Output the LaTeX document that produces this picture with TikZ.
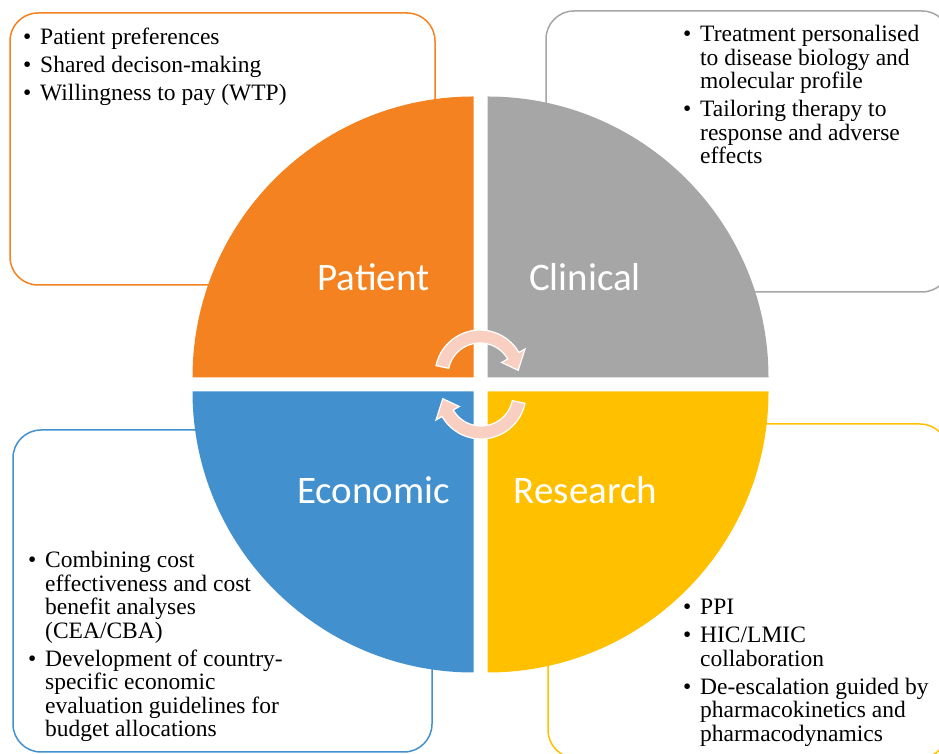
\documentclass[tikz,border=0pt]{standalone}
\usepackage{fontspec}
\setmainfont{Liberation Serif}
\newfontfamily\labelfont{Carlito}
\definecolor{porange}{HTML}{F58220}
\definecolor{pgray}{HTML}{A6A6A6}
\definecolor{pblue}{HTML}{4290CE}
\definecolor{pyellow}{HTML}{FFC000}
\definecolor{parrow}{HTML}{F9CFC2}
\newcommand{\bitem}[1]{\par\hangindent=17pt\hangafter=1\noindent\makebox[17pt][l]{\textbullet}#1\par}
\newcommand{\bsep}{\vspace{4.5pt}}
\newcommand{\blist}[1]{\parbox[t]{330pt}{\fontsize{23.5pt}{23.5pt}\selectfont\setlength{\parskip}{0pt}\lineskiplimit=-20pt #1}}
\newcommand{\cycarrowpath}{%
  \fill[cycfill]
    (168:45pt) arc[start angle=168, end angle=30, radius=45pt]
    -- (30:52pt) -- (7:38.5pt) -- (30:25pt) -- (30:32pt)
    arc[start angle=30, end angle=168, radius=32pt] -- cycle;}
\tikzset{
  infobox/.style={draw=#1, line width=1.5pt, rounded corners=28pt, fill=none, inner sep=0pt},
  quadlabel/.style={text=white, font=\labelfont\fontsize{39pt}{39pt}\selectfont, inner sep=0pt},
  listtext/.style={anchor=base west, inner sep=0pt, text=black},
  cycfill/.style={fill=parrow, draw=white, line width=1.2pt}
}
\begin{document}
\begin{tikzpicture}[x=1pt,y=1pt]
\useasboundingbox (0,0) rectangle (939,754);
% info boxes
\node[infobox=porange, minimum width=425pt, minimum height=272pt] (pbox) at (222.5,605) {};
\node[infobox=pgray, minimum width=404pt, minimum height=281pt] (cbox) at (748,602.5) {};
\node[infobox=pblue, minimum width=419pt, minimum height=322pt] (ebox) at (222.5,163) {};
\node[infobox=pyellow, minimum width=400pt, minimum height=334pt] (rbox) at (748,163) {};
% quadrants
\fill[porange] (473.5,376.5) -- (192.5,376.5) arc[start angle=180, end angle=90, radius=281] -- cycle;
\fill[pgray] (487.5,376.5) -- (487.5,657.5) arc[start angle=90, end angle=0, radius=281] -- cycle;
\fill[pblue] (473.5,362.5) -- (473.5,81.5) arc[start angle=270, end angle=180, radius=281] -- cycle;
\fill[pyellow] (487.5,362.5) -- (768.5,362.5) arc[start angle=0, end angle=-90, radius=281] -- cycle;
% labels
\node[quadlabel] (lpat) at (373.5,477) {Patient};
\node[quadlabel] (lcli) at (585,477) {Clinical};
\node[quadlabel] (leco) at (373.5,264) {Economic};
\node[quadlabel] (lres) at (585.5,264) {Research};
% cycle arrows
\begin{scope}[shift={(480,379)}]
\cycarrowpath
\end{scope}
\begin{scope}[shift={(481,360)}, rotate=180]
\cycarrowpath
\end{scope}
% lists
\node[listtext] (tpat) at (23,709) {\blist{%
\bitem{Patient preferences}\bsep
\bitem{Shared decison-making}\bsep
\bitem{Willingness to pay (WTP)}}};
\node[listtext] (tcli) at (683,712) {\blist{%
\bitem{Treatment personalised\\to disease biology and\\molecular profile}\bsep
\bitem{Tailoring therapy to\\response and adverse\\effects}}};
\node[listtext] (teco) at (28,186) {\blist{%
\bitem{Combining cost\\effectiveness and cost\\benefit analyses\\(CEA/CBA)}\bsep
\bitem{Development of country-\\specific economic\\evaluation guidelines for\\budget allocations}}};
\node[listtext] (tres) at (683,139) {\blist{%
\bitem{PPI}\bsep
\bitem{HIC/LMIC\\collaboration}\bsep
\bitem{De-escalation guided by\\pharmacokinetics and\\pharmacodynamics}}};
\end{tikzpicture}
\end{document}
